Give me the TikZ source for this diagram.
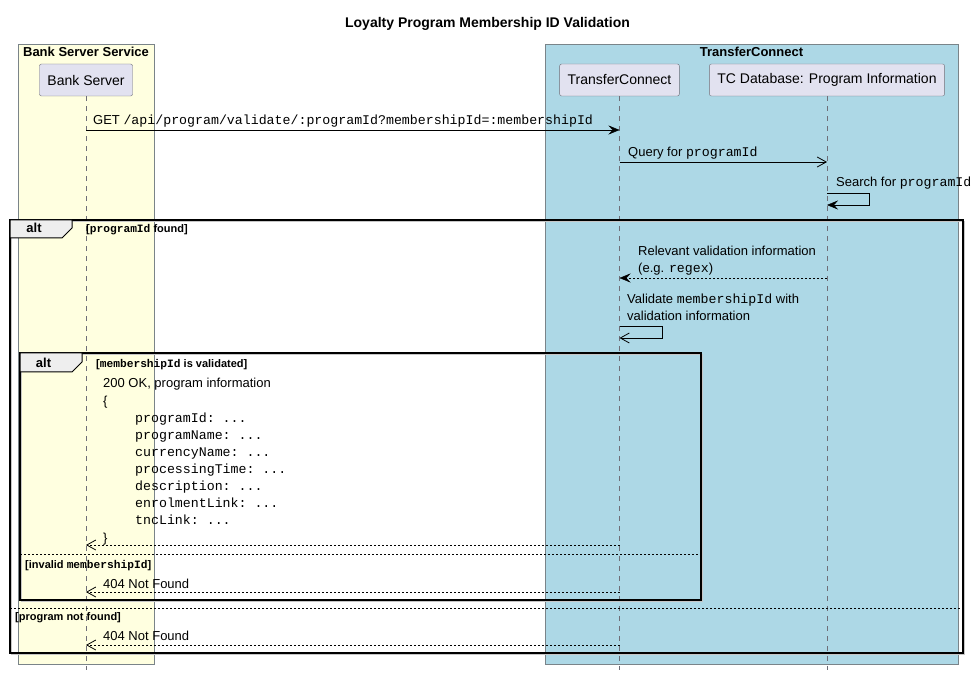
\documentclass[tikz,border=0pt]{standalone}
\usepackage{fontspec}
\setmainfont{Liberation Sans}
\setmonofont[Scale=1.02]{Liberation Mono}
\usetikzlibrary{arrows.meta}
\definecolor{boxyellow}{HTML}{FFFFE0}
\definecolor{boxblue}{HTML}{ADD8E6}
\definecolor{boxdraw}{HTML}{7A8489}
\definecolor{partfill}{HTML}{E2E2F0}
\definecolor{partdraw}{HTML}{6E6E78}
\definecolor{tabfill}{HTML}{EEEEEE}
\tikzset{>=stealth,
  participant/.style={draw=partdraw, fill=partfill, rounded corners=2pt,
    minimum height=32pt, inner xsep=8pt, font=\fontsize{14}{16}\selectfont},
  lifeline/.style={draw=partdraw, dash pattern=on 5pt off 5pt},
  msg/.style={-{Stealth[length=11pt,width=9pt,inset=4pt]}},
  amsg/.style={-{Straight Barb[length=9pt,width=10pt,line width=0.8pt]}},
  ret/.style={dash pattern=on 2pt off 2pt},
  txt/.style={anchor=base west, inner sep=0pt, font=\fontsize{13}{15}\selectfont},
  guard/.style={anchor=base west, inner sep=0pt, font=\fontsize{11}{13}\selectfont\bfseries},
  grp/.style={line width=1.5pt},
  grpshadow/.style={line width=1.5pt, draw=gray!45},
  tab/.style={draw=black, line width=1pt, fill=tabfill},
  divider/.style={line width=0.8pt, dash pattern=on 2pt off 2pt}
}
\begin{document}
\begin{tikzpicture}[x=1pt,y=-1pt]
    \useasboundingbox (0,0) rectangle (975,676);
    \node[anchor=base, font=\fontsize{14}{16}\selectfont\bfseries] (title) at (487.5,28)
        {Loyalty Program Membership ID Validation};
    % boxes
    \draw[boxdraw, fill=boxyellow] (18,44) rectangle (154,664);
    \draw[boxdraw, fill=boxblue] (545,44) rectangle (958,664);
    \node[anchor=base, inner sep=0pt, font=\fontsize{13}{15}\selectfont\bfseries] (bsbox) at (86,57) {Bank Server Service};
    \node[anchor=base, inner sep=0pt, font=\fontsize{13}{15}\selectfont\bfseries] (tcbox) at (751.5,57) {TransferConnect};
    % participants
    \node[participant] (bs) at (86,80) {Bank Server};
    \node[participant] (tc) at (619.5,80) {TransferConnect};
    \node[participant] (db) at (827,80) {TC Database: Program Information};
    \foreach \p in {bs,tc,db}
        \draw[lifeline] (\p.south) -- (\p |- 0,670);
    % alt frames
    \draw[grpshadow] (11.5,221.5) rectangle (964.5,654.5);
    \draw[grp] (10,220) rectangle (963,653);
    \draw[tab] (10,220) -- (72,220) -- (72,228) -- (62,238) -- (10,238) -- cycle;
    \node[anchor=base, inner sep=0pt, font=\fontsize{13}{15}\selectfont\bfseries] (alt1) at (34,233) {alt};
    \node[guard] (g1) at (86,233) {[\texttt{programId} found]};
    \draw[divider] (10,608) -- (963,608);
    \node[guard] (g2) at (15,620) {[program not found]};
    \draw[grpshadow] (21.5,354.5) rectangle (702.5,601.5);
    \draw[grp] (20,353) rectangle (701,600);
    \draw[tab] (20,353) -- (82,353) -- (82,362) -- (72,372) -- (20,372) -- cycle;
    \node[anchor=base, inner sep=0pt, font=\fontsize{13}{15}\selectfont\bfseries] (alt2) at (43.5,367) {alt};
    \node[guard] (g3) at (96,367) {[\texttt{membershipId} is validated]};
    \draw[divider] (20,554) -- (701,554);
    \node[guard] (g4) at (25,568) {[invalid \texttt{membershipId}]};
    % messages
    \node[txt] (m1) at (93,125) {GET \texttt{/api/program/validate/:programId?membershipId=:membershipId}};
    \draw[msg] (bs |- 0,130) -- (tc |- 0,130);
    \node[txt] (m2) at (628,157) {Query for \texttt{programId}};
    \draw[amsg] (tc |- 0,162) -- (db |- 0,162);
    \node[txt] (m3) at (836,187) {Search for \texttt{programId}};
    \draw[msg] (db |- 0,193) -- ++(42,0) -- ++(0,12) -- (db |- 0,205);
    \node[txt] (m4a) at (638,256) {Relevant validation information};
    \node[txt] (m4b) at (638,273) {(e.g. \texttt{regex})};
    \draw[msg, ret] (db |- 0,278) -- (tc |- 0,278);
    \node[txt] (m5a) at (627,304) {Validate \texttt{membershipId} with};
    \node[txt] (m5b) at (627,321) {validation information};
    \draw[amsg] (tc |- 0,326) -- ++(43,0) -- ++(0,12) -- (tc |- 0,338);
    \node[txt] (m6a) at (103,388) {200 OK, program information};
    \node[txt] (m6b) at (103,405) {\{};
    \foreach \f [count=\i] in {programId, programName, currencyName, processingTime,
            description, enrolmentLink, tncLink}
        \node[txt] (j\i) at (135,405+17*\i) {\texttt{\f: ...}};
    \node[txt] (m6c) at (103,542) {\}};
    \draw[amsg, ret] (tc |- 0,545) -- (bs |- 0,545);
    \node[txt] (m7) at (103,588) {404 Not Found};
    \draw[amsg, ret] (tc |- 0,592) -- (bs |- 0,592);
    \node[txt] (m8) at (103,640) {404 Not Found};
    \draw[amsg, ret] (tc |- 0,645) -- (bs |- 0,645);
\end{tikzpicture}
\end{document}
